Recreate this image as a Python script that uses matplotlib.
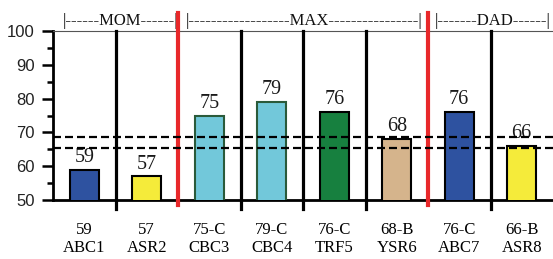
import matplotlib
matplotlib.use("Agg")
import matplotlib.pyplot as plt
import numpy as np
from matplotlib.ticker import MultipleLocator

# data
names = ["ABC1", "ASR2", "CBC3", "CBC4", "TRF5", "YSR6", "ABC7", "ASR8"]
codes = ["59", "57", "75-C", "79-C", "76-C", "68-B", "76-C", "66-B"]
values = [59, 57, 75, 79, 76, 68, 76, 66]
colors = ["#2E52A0", "#F5EB3A", "#72C8DA", "#72C8DA", "#17803F", "#D5B48C", "#2E52A0", "#F5EB3A"]
edges = ["black", "black", "#2A5A3A", "#2A5A3A", "black", "black", "black", "black"]
ref_lines = [68.7, 65.5]
black_seps = [0.5, 2.5, 3.5, 4.5, 6.5]
red_seps = [1.5, 5.5]
groups = ["|------MOM------|", "|------------------MAX----------------|", "|-------DAD------|"]
group_starts = [-0.34, 1.63, 5.6]

SERIF = "Liberation Serif"
SANS = "Liberation Sans"

fig = plt.figure(figsize=(5.53, 2.59), dpi=100)
ax = fig.add_axes([53 / 553, 1 - 200 / 259, 500 / 553, 169 / 259])

x = np.arange(len(values))
ax.bar(x, values, width=0.47, color=colors, edgecolor=edges, linewidth=1.5, zorder=3)

for xi, v in zip(x, values):
    ax.text(xi, v + 0.8, str(v), ha="center", va="bottom", fontsize=14.5,
            family=SERIF, color="#1a1a1a", zorder=5)

ax.set_xlim(-0.5, 7.5)
ax.set_ylim(50, 100)

# separators
for s in black_seps:
    ax.plot([s, s], [47.3, 100], color="black", lw=2.3, clip_on=False, zorder=4)
for s in red_seps:
    ax.plot([s, s], [48.5, 105.2], color="#E8282A", lw=3, clip_on=False, zorder=4)

for r in ref_lines:
    ax.axhline(r, color="black", lw=1.6, ls=(0, (3.6, 1.8)), zorder=6)

# group headers
for g, c in zip(groups, group_starts):
    ax.text(c, 100.5, g, ha="left", va="bottom", fontsize=12, family=SERIF, color="#111111")

ax.set_xticks(x)
ax.set_xticklabels([c + "\n" + n for c, n in zip(codes, names)], family=SERIF, fontsize=12,
                   linespacing=1.15)
ax.tick_params(axis="x", length=0, pad=16)

ax.yaxis.set_major_locator(MultipleLocator(10))
ax.yaxis.set_minor_locator(MultipleLocator(5))
ax.tick_params(axis="y", which="major", length=8, width=1.8, labelsize=12, pad=5)
ax.tick_params(axis="y", which="minor", length=4, width=1.8)
for lab in ax.get_yticklabels():
    lab.set_family(SANS)
    lab.set_color("#222222")

ax.spines["left"].set_linewidth(2)
ax.spines["bottom"].set_linewidth(2)
ax.spines["right"].set_visible(False)
ax.spines["top"].set_linewidth(0.8)
ax.spines["top"].set_color("#555555")

fig.savefig("out.png", dpi=100)
